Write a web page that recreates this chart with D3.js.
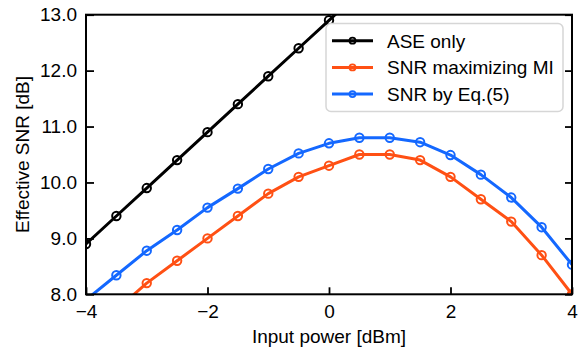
<!DOCTYPE html>
<html>
<head>
<meta charset="utf-8">
<script src="https://cdn.jsdelivr.net/npm/d3@7"></script>
<style>
  html, body { margin: 0; padding: 0; background: #fff; }
  svg { display: block; font-family: "Liberation Sans", Arial, sans-serif; }
</style>
</head>
<body>
<svg id="chart" width="582" height="349"></svg>
<script>
// ---- data ----
const inputPower = [-4, -3.5, -3, -2.5, -2, -1.5, -1, -0.5, 0, 0.5, 1, 1.5, 2, 2.5, 3, 3.5, 4];
const aseOnly    = [8.9, 9.4, 9.9, 10.4, 10.9, 11.4, 11.9, 12.4, 12.9, 13.4, 13.9, 14.4, 14.9, 15.4, 15.9, 16.4, 16.9];
const snrMaxMI   = [7.2, 7.72, 8.2, 8.6, 9.0, 9.4, 9.8, 10.1, 10.3, 10.5, 10.5, 10.4, 10.1, 9.7, 9.3, 8.7, 8.0];
const snrEq5     = [7.9, 8.34, 8.78, 9.15, 9.55, 9.89, 10.24, 10.52, 10.7, 10.8, 10.8, 10.72, 10.49, 10.14, 9.73, 9.2, 8.53];
const seriesNames = ["ASE only", "SNR maximizing MI", "SNR by Eq.(5)"];
const seriesColors = ["#000000", "#ff5014", "#1468ff"];
const xTicks = [-4, -2, 0, 2, 4];
const yTicks = [8, 9, 10, 11, 12, 13];
const xLabel = "Input power [dBm]";
const yLabel = "Effective SNR [dB]";

const series = [aseOnly, snrMaxMI, snrEq5].map((vals, i) => ({
  name: seriesNames[i], color: seriesColors[i],
  points: inputPower.map((x, j) => ({ x, y: vals[j] }))
}));

// ---- layout ----
const svg = d3.select("#chart");
const m = { left: 86, top: 14.7, right: 10, bottom: 54.7 };
const W = 582 - m.left - m.right;
const H = 349 - m.top - m.bottom;

const x = d3.scaleLinear().domain([-4, 4]).range([0, W]);
const y = d3.scaleLinear().domain([8, 13]).range([H, 0]);

const g = svg.append("g").attr("transform", `translate(${m.left},${m.top})`);

g.append("defs").append("clipPath").attr("id", "clip")
  .append("rect").attr("x", 0).attr("y", 0).attr("width", W).attr("height", H);

// ---- series ----
const line = d3.line().x(d => x(d.x)).y(d => y(d.y));
const plot = g.append("g").attr("clip-path", "url(#clip)");
series.forEach(s => {
  plot.append("path").datum(s.points)
    .attr("fill", "none").attr("stroke", s.color)
    .attr("stroke-width", 3).attr("stroke-linejoin", "round")
    .attr("d", line);
  plot.selectAll(null).data(s.points).enter().append("circle")
    .attr("cx", d => x(d.x)).attr("cy", d => y(d.y)).attr("r", 4.2)
    .attr("fill", "none").attr("stroke", s.color).attr("stroke-width", 2);
});

// ---- axes ----
const fs = "19px";
const xAxis = g.append("g").attr("transform", `translate(0,${H})`)
  .call(d3.axisBottom(x).tickValues(xTicks).tickSizeInner(-7).tickSizeOuter(0).tickPadding(10));
const yAxis = g.append("g")
  .call(d3.axisLeft(y).tickValues(yTicks).tickFormat(d3.format(".1f")).tickSizeInner(-8).tickSizeOuter(0).tickPadding(9));
const yAxisR = g.append("g").attr("transform", `translate(${W},0)`)
  .call(d3.axisRight(y).tickValues(yTicks).tickFormat("").tickSizeInner(-7).tickSizeOuter(0));
[xAxis, yAxis, yAxisR].forEach(a => {
  a.select(".domain").remove();
  a.selectAll(".tick line").attr("stroke", "#000").attr("stroke-width", 1.8);
  a.selectAll("text").attr("font-size", fs).attr("fill", "#000")
    .attr("font-family", "'Liberation Sans', Arial, sans-serif");
});

// frame
g.append("rect").attr("x", 0).attr("y", 0).attr("width", W).attr("height", H)
  .attr("fill", "none").attr("stroke", "#000").attr("stroke-width", 2);

// axis labels
svg.append("text").attr("x", m.left + W / 2).attr("y", 343)
  .attr("text-anchor", "middle").attr("font-size", fs).text(xLabel);
svg.append("text")
  .attr("transform", `translate(29,${m.top + H / 2}) rotate(-90)`)
  .attr("text-anchor", "middle").attr("font-size", fs).text(yLabel);

// ---- legend ----
const lg = svg.append("g");
lg.append("rect").attr("x", 326).attr("y", 23.5).attr("width", 237).attr("height", 88)
  .attr("rx", 5).attr("fill", "#fff").attr("stroke", "#d6d6d6").attr("stroke-width", 1.5);
series.forEach((s, i) => {
  const cy = 40.7 + i * 26.7;
  lg.append("line").attr("x1", 332).attr("x2", 373).attr("y1", cy).attr("y2", cy)
    .attr("stroke", s.color).attr("stroke-width", 3);
  lg.append("circle").attr("cx", 352.5).attr("cy", cy).attr("r", 3)
    .attr("fill", "none").attr("stroke", s.color).attr("stroke-width", 1.8);
  lg.append("text").attr("x", 387).attr("y", cy + 7).attr("font-size", fs).text(s.name);
});
</script>
</body>
</html>
